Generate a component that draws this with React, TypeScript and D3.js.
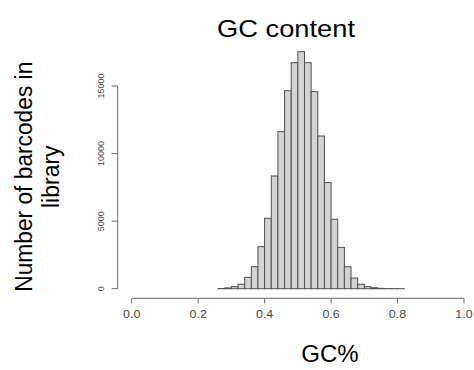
import React from "react";
import * as d3 from "d3";

const binStarts = [0.26, 0.28, 0.30, 0.32, 0.34, 0.36, 0.38, 0.40, 0.42, 0.44, 0.46, 0.48, 0.50, 0.52, 0.54, 0.56, 0.58, 0.60, 0.62, 0.64, 0.66, 0.68, 0.70, 0.72, 0.74, 0.76, 0.78, 0.80];
const binWidth = 0.02;
const counts = [15, 60, 150, 330, 840, 1630, 3110, 5210, 8340, 11620, 14650, 16730, 17540, 16730, 14580, 11300, 7850, 5140, 3060, 1630, 790, 330, 150, 70, 25, 10, 4, 2];
const xTicks = [0, 0.2, 0.4, 0.6, 0.8, 1.0];
const yTicks = [0, 5000, 10000, 15000];
const title = "GC content";
const xLabel = "GC%";
const yLabelLines = ["Number of barcodes in", "library"];

const W = 474;
const H = 370;
const FONT = "'Liberation Sans', Arial, Helvetica, sans-serif";

export default function App() {
  const x = d3.scaleLinear().domain([0, 1]).range([131.7, 464]);
  const y = d3.scaleLinear().domain([0, 15000]).range([288.7, 86]);
  const xAxisY = 298.3;
  const yAxisX = 117.7;
  const axisColor = "#6a6a6a";
  const tickText = "#4a4a4a";

  return (
    <svg width={W} height={H} style={{ position: "absolute", left: 0, top: 0, background: "#fff" }} fontFamily={FONT}>
      <rect x={0} y={0} width={W} height={H} fill="#fff" />
      {/* bars */}
      {binStarts.map((b, i) => (
        <rect
          key={i}
          x={x(b)}
          y={y(counts[i])}
          width={x(b + binWidth) - x(b)}
          height={y(0) - y(counts[i])}
          fill="#d3d3d3"
          stroke="#505050"
          strokeWidth={1}
        />
      ))}
      {/* x axis */}
      <line x1={x(xTicks[0])} x2={x(xTicks[xTicks.length - 1])} y1={xAxisY} y2={xAxisY} stroke={axisColor} strokeWidth={1} />
      {xTicks.map((t) => (
        <g key={t}>
          <line x1={x(t)} x2={x(t)} y1={xAxisY} y2={xAxisY + 5} stroke={axisColor} strokeWidth={1} />
          <text
            transform={`translate(${x(t)},${xAxisY + 20}) scale(1.25,1)`}
            textAnchor="middle"
            fontSize={10}
            fill={tickText}
          >
            {d3.format(".1f")(t)}
          </text>
        </g>
      ))}
      {/* y axis */}
      <line x1={yAxisX} x2={yAxisX} y1={y(yTicks[0])} y2={y(yTicks[yTicks.length - 1])} stroke={axisColor} strokeWidth={1} />
      {yTicks.map((t) => (
        <g key={t}>
          <line x1={yAxisX - 6} x2={yAxisX} y1={y(t)} y2={y(t)} stroke={axisColor} strokeWidth={1} />
          <text
            transform={`translate(${yAxisX - 14},${y(t)}) rotate(-90)`}
            textAnchor="middle"
            fontSize={9}
            fill={tickText}
          >
            {String(t)}
          </text>
        </g>
      ))}
      {/* title */}
      <text x={286} y={36.7} textAnchor="middle" fontSize={24} fill="#000" textLength={138} lengthAdjust="spacingAndGlyphs">
        {title}
      </text>
      {/* x label */}
      <text x={330} y={362} textAnchor="middle" fontSize={24} fill="#000">
        {xLabel}
      </text>
      {/* y label */}
      <text transform={`translate(31.7,176.7) rotate(-90)`} textAnchor="middle" fontSize={23} fill="#000" textLength={230} lengthAdjust="spacingAndGlyphs">
        {yLabelLines[0]}
      </text>
      <text transform={`translate(59,176.7) rotate(-90)`} textAnchor="middle" fontSize={23} fill="#000">
        {yLabelLines[1]}
      </text>
    </svg>
  );
}
